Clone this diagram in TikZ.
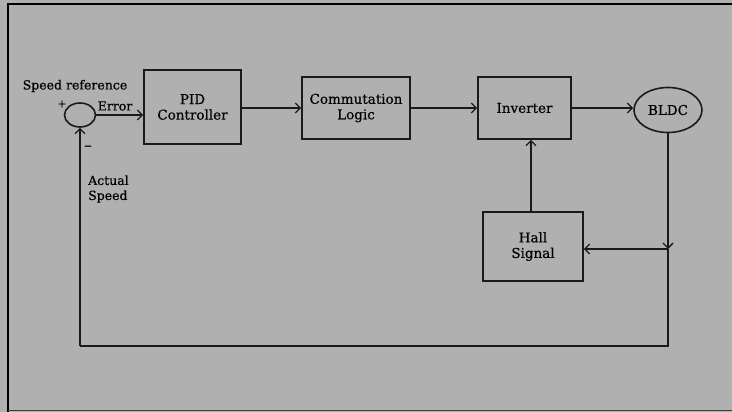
\documentclass[tikz,border=0pt]{standalone}
\usepackage{fontspec}
\setmainfont{DejaVu Serif}[FakeBold=0.4]
\usetikzlibrary{shapes.geometric,arrows.meta}
\definecolor{bggray}{HTML}{B0B0B0}
\definecolor{ink}{HTML}{1A1A1A}
\tikzset{
  blk/.style={draw=ink,line width=1.6pt,rectangle,align=center,inner sep=0pt,text=black,font=\fontsize{13.5}{15.5}\selectfont},
  ell/.style={draw=ink,line width=1.6pt,ellipse,inner sep=0pt,text=black,font=\fontsize{13.5}{15.5}\selectfont},
  conn/.style={draw=ink,line width=1.6pt},
  arr/.style={conn,-{Straight Barb[length=5pt,width=10pt,line width=1.3pt]}},
  lbl/.style={font=\fontsize{12.5}{15}\selectfont,inner sep=0pt,text=black}
}
\begin{document}
\begin{tikzpicture}[x=1pt,y=-1pt]
\useasboundingbox (0,0) rectangle (732,412);
\fill[bggray] (0,0) rectangle (732,412);
\draw[black,line width=2.5pt] (8,3) -- (8,412);
\draw[black,line width=2pt] (7,4) -- (732,4);
\draw[black!75,line width=1.5pt] (8,410.5) -- (732,410.5);

\node[ell,minimum width=31pt,minimum height=24pt] (sum) at (80,115) {};
\node[blk,minimum width=97pt,minimum height=74pt] (pid) at (192.5,107) {PID\\Controller};
\node[blk,minimum width=108pt,minimum height=62pt] (comm) at (356,108) {Commutation\\Logic};
\node[blk,minimum width=93pt,minimum height=62pt] (inv) at (524.5,108) {Inverter};
\node[ell,minimum width=68pt,minimum height=45pt] (bldc) at (668,110) {BLDC};
\node[blk,minimum width=100pt,minimum height=69pt] (hall) at (533,246.5) {Hall\\Signal};

\coordinate (j) at (668,249);
\coordinate (br) at (668,346);
\coordinate (bl) at (80,346);

\draw[arr] (sum.east) -- (sum.east -| pid.west);
\draw[arr] (pid.east |- comm.west) -- (comm.west);
\draw[arr] (comm.east) -- (comm.east -| inv.west);
\draw[arr] (inv.east) -- (inv.east -| bldc.west);
\draw[arr] (531,0 |- hall.north) -- (531,0 |- inv.south);
\draw[arr] (bldc.south) -- (j);
\draw[conn] (j) -- (br) -- (bl);
\draw[arr] (bl) -- (sum.south);
\draw[arr] (j) -- (j -| hall.east);

\node[lbl] (sref) at (75,86) {Speed reference};
\node[lbl] (err) at (115,106) {Error};
\node[lbl,font=\fontsize{11}{11}\selectfont] (plus) at (62,104) {+};
\node[lbl,font=\fontsize{15}{15}\selectfont] (minus) at (88,148) {–};
\node[lbl,anchor=west,align=left] (act) at (88,189) {Actual\\Speed};
\end{tikzpicture}
\end{document}
